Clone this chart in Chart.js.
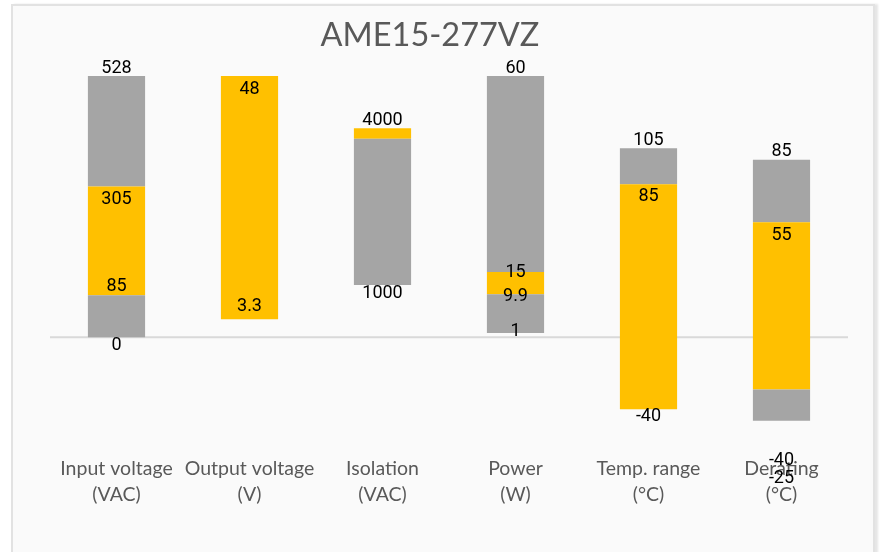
<!DOCTYPE html>
<html>
<head>
<meta charset="utf-8">
<script src="https://cdn.jsdelivr.net/npm/chart.js@4"></script>
<style>
    body { margin: 0; background: #ffffff; }
    #panel {
        position: absolute; left: 11px; top: 4px; width: 860px; height: 560px;
        background: #fafafa; border: 2px solid #e2e2e2;
        box-shadow: 3px 0 2px #e6e6e6;
    }
    #wrap { position: absolute; left: 0; top: 0; width: 882px; height: 552px; }
</style>
</head>
<body>
<div id="panel"></div>
<div id="wrap"><canvas id="specChart" width="882" height="552"></canvas></div>
<script>
// Datos del gráfico
const titulo = 'AME15-277VZ';
const categorias = [
    ['Input voltage', '(VAC)'],
    ['Output voltage', '(V)'],
    ['Isolation', '(VAC)'],
    ['Power', '(W)'],
    ['Temp. range', '(°C)'],
    ['Derating', '(°C)']
];
// escala completa de cada categoría (valor que llega a 100 %)
const escalaCompleta = [528, 48, 5000, 60, 145, 125];
const grisBajo = [[0, 85], null, [1000, 3800], [1, 9.9], null, [-40, -25]];
const naranja = [[85, 305], [3.3, 48], [3800, 4000], [9.9, 15], [-40, 85], [-25, 55]];
const grisAlto = [[305, 528], null, null, [15, 60], [85, 105], [55, 85]];
const etiquetas = [
    [528, 305, 85, 0],
    [48, 3.3],
    [4000, 1000],
    [60, 15, 9.9, 1],
    [105, 85, -40],
    [85, 55, -40, -25]
];
// desplazamiento vertical de cada etiqueta (px)
const desplazamientos = [
    [-8, 13, -9, 8],
    [13, -13],
    [-8, 8],
    [-8, 1, 2, -1],
    [-8, 12, 7],
    [-8, 13, 40, 89]
];

const GRIS = '#a5a5a5';
const NARANJA = '#ffc000';
const TEXTO = '#595959';

function normalizar(serie) {
    return serie.map((par, i) => par ? [par[0] / escalaCompleta[i] * 100, par[1] / escalaCompleta[i] * 100] : null);
}

const pluginDibujo = {
    id: 'dibujo',
    beforeDatasetsDraw(chart) {
        const ctx = chart.ctx;
        const y0 = chart.scales.y.getPixelForValue(0);
        ctx.save();
        ctx.strokeStyle = '#d9d9d9';
        ctx.lineWidth = 2;
        ctx.beginPath();
        ctx.moveTo(chart.chartArea.left, y0);
        ctx.lineTo(chart.chartArea.right, y0);
        ctx.stroke();
        ctx.restore();
    },
    afterDatasetsDraw(chart) {
        const ctx = chart.ctx;
        const xs = chart.scales.x;
        const ys = chart.scales.y;
        ctx.save();
        ctx.fillStyle = '#000000';
        ctx.font = '18px Roboto';
        ctx.textAlign = 'center';
        ctx.textBaseline = 'middle';
        etiquetas.forEach((lista, i) => {
            const x = xs.getPixelForValue(i);
            lista.forEach((v, j) => {
                const y = ys.getPixelForValue(v / escalaCompleta[i] * 100) + desplazamientos[i][j];
                ctx.fillText(String(v), x, y);
            });
        });
        // título
        ctx.fillStyle = TEXTO;
        ctx.font = '32.5px Lato';
        ctx.fillText(titulo, 430, 36);
        ctx.restore();
    }
};

const ctx = document.getElementById('specChart');
new Chart(ctx, {
    type: 'bar',
    data: {
        labels: categorias,
        datasets: [
            { data: normalizar(grisBajo), backgroundColor: GRIS },
            { data: normalizar(naranja), backgroundColor: NARANJA },
            { data: normalizar(grisAlto), backgroundColor: GRIS }
        ]
    },
    options: {
        responsive: false,
        animation: false,
        layout: { padding: { left: 50, right: 34, top: 50, bottom: 30 } },
        datasets: { bar: { grouped: false, categoryPercentage: 0.43, barPercentage: 1 } },
        plugins: { legend: { display: false }, tooltip: { enabled: false } },
        scales: {
            x: {
                grid: { display: false, drawTicks: false },
                border: { display: false },
                ticks: { color: TEXTO, font: { family: 'Lato', size: 19.5, lineHeight: 1.34 }, padding: 14, maxRotation: 0 }
            },
            y: { display: false, min: -40, max: 110 }
        }
    },
    plugins: [pluginDibujo]
});
</script>
</body>
</html>
